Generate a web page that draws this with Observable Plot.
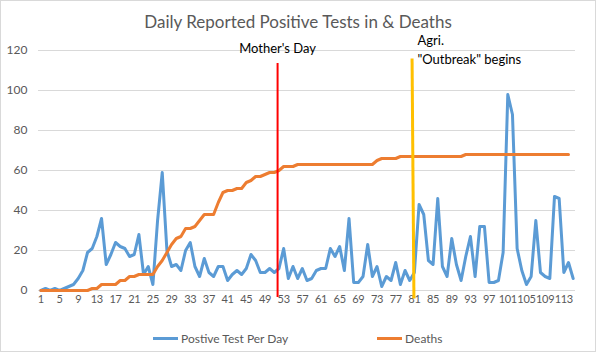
<!DOCTYPE html>
<html><head><meta charset="utf-8">
<script src="https://cdn.jsdelivr.net/npm/d3@7"></script>
<script src="https://cdn.jsdelivr.net/npm/@observablehq/plot@0.6"></script>
<style>
body{margin:0;background:#fff;font-family:Lato,"Noto Sans",sans-serif}
#chart{position:relative;width:596px;height:352px;overflow:hidden;background:#fff}
#chart::after{content:"";position:absolute;inset:0;border:1px solid #d9d9d9;pointer-events:none}
#chart svg{position:absolute;left:0;top:0}
#chart svg g[aria-label="x-axis tick label"]{font-size:11px;letter-spacing:-0.3px}
#title{position:absolute;left:0;right:0;top:11px;text-align:center;font-size:17px;color:#595959;white-space:nowrap}
.leg{position:absolute;top:331px;font-size:12px;color:#595959;white-space:nowrap;display:flex;align-items:center}
.leg span.sw{display:inline-block;width:25px;height:3px;margin-right:3px}
</style></head>
<body>
<div id="chart">
  <div id="title">Daily Reported Positive Tests in &amp; Deaths</div>
  <div class="leg" style="left:153px"><span class="sw" style="background:#5b9bd5"></span>Postive Test Per Day</div>
  <div class="leg" style="left:377px"><span class="sw" style="background:#ed7d31"></span>Deaths</div>
</div>
<script>
const positiveTests = [0,1,0,1,0,1,2,3,6,10,19,21,27,36,13,18,24,22,21,17,18,28,8,12,3,35,59,20,12,13,10,20,24,12,7,16,9,7,12,12,5,8,10,8,11,18,15,9,9,11,9,11,21,6,12,6,11,5,6,10,11,11,21,17,22,10,36,4,4,7,23,7,12,2,7,5,14,3,10,5,9,43,38,15,13,46,12,7,26,13,5,17,27,7,32,32,4,4,5,19,98,88,21,10,3,7,35,9,7,6,47,46,9,14,6];
const deaths = [0,0,0,0,0,0,0,0,0,0,0,1,1,3,3,3,3,5,5,7,7,8,8,8,8,12,15,19,23,26,27,31,31,32,35,38,38,38,44,49,50,50,51,51,54,55,57,57,58,59,59,60,62,62,62,63,63,63,63,63,63,63,63,63,63,63,63,63,63,63,63,63,65,66,66,66,66,67,67,67,67,67,67,67,67,67,67,67,67,67,67,68,68,68,68,68,68,68,68,68,68,68,68,68,68,68,68,68,68,68,68,68,68,68];
const xTicks = d3.range(1, 116, 4);
const yTicks = [0,20,40,60,80,100,120];
const events = [
  {day: 51.7, label: "Mother's Day", color: "#ff0000"},
  {day: 80.8, label: "Agri.\n\"Outbreak\" begins", color: "#ffc000"}
];

const posData = positiveTests.map((v,i)=>({day:i+1, value:v}));
const deathData = deaths.map((v,i)=>({day:i+1, value:v}));

const plot = Plot.plot({
  width: 596, height: 352,
  marginLeft: 38, marginRight: 21, marginTop: 50, marginBottom: 62,
  style: {fontFamily: "Lato, 'Noto Sans', sans-serif", fontSize: "12px", color: "#595959", background: "transparent", overflow: "visible"},
  x: {domain: [0.5, 115.5], ticks: xTicks, tickFormat: d => String(d), tickSize: 0, tickPadding: 5, label: null},
  y: {domain: [0, 120], ticks: yTicks, tickSize: 0, tickPadding: 11, label: null},
  marks: [
    Plot.ruleY(yTicks, {stroke: "#d9d9d9", strokeWidth: 1}),
    Plot.line(posData, {x: "day", y: "value", stroke: "#5b9bd5", strokeWidth: 3}),
    Plot.line(deathData, {x: "day", y: "value", stroke: "#ed7d31", strokeWidth: 3}),
    Plot.ruleX([events[0]], {x: "day", y1: -3.5, y2: 113.5, stroke: "color", strokeWidth: 2}),
    Plot.link([events[1]], {x1: d => d.day - 0.3, x2: d => d.day + 0.1, y1: 116, y2: -4, stroke: "color", strokeWidth: 3}),
    Plot.text([events[0]], {x: "day", y: 121, text: "label", fill: "#000", fontSize: 13, textAnchor: "middle"}),
    Plot.text([events[1]], {x: "day", y: 121, text: "label", fill: "#000", fontSize: 13, textAnchor: "start", dx: 4, lineAnchor: "middle", lineHeight: 1.5})
  ]
});
plot.setAttribute("color", "currentColor");
document.getElementById("chart").prepend(plot);
</script>
</body></html>
